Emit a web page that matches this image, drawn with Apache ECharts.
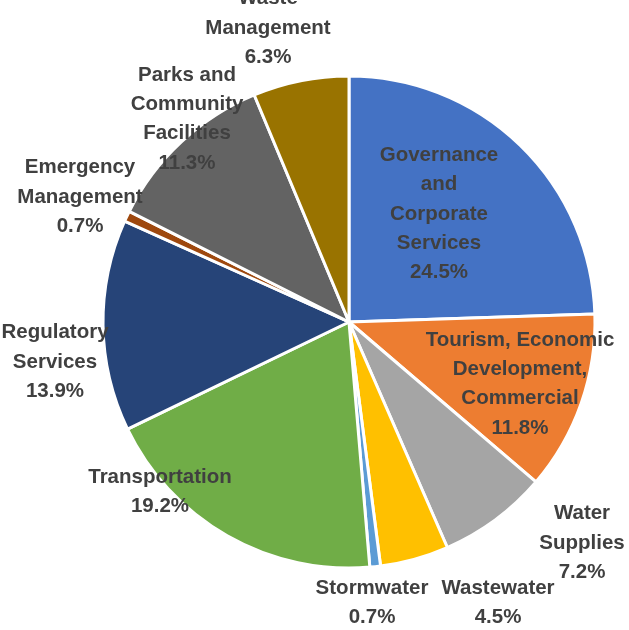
<!DOCTYPE html>
<html>
<head>
<meta charset="utf-8">
<script src="https://cdn.jsdelivr.net/npm/echarts@6/dist/echarts.min.js"></script>
<style>html,body{margin:0;padding:0;background:#fff}#c{width:629px;height:630px}</style>
</head>
<body>
<div id="c"></div>
<script>
const categories = [
  "Governance\nand\nCorporate\nServices",
  "Tourism, Economic\nDevelopment,\nCommercial",
  "Water\nSupplies",
  "Wastewater",
  "Stormwater",
  "Transportation",
  "Regulatory\nServices",
  "Emergency\nManagement",
  "Parks and\nCommunity\nFacilities",
  "Waste\nManagement"
];
const values = [24.5, 11.8, 7.2, 4.5, 0.7, 19.2, 13.9, 0.7, 11.3, 6.3];
const colors = ["#4472C4", "#ED7D31", "#A5A5A5", "#FFC000", "#5B9BD5", "#70AD47", "#264478", "#9E480E", "#636363", "#997300"];
// label anchor points (text block centers)
const labelPos = [
  [439, 214], [520, 384], [582, 543], [498, 603], [372, 603],
  [160, 492], [55, 362], [80, 197], [187, 119], [268, 28]
];

const chart = echarts.init(document.getElementById('c'), null, {renderer: 'canvas'});
chart.setOption({
  animation: false,
  backgroundColor: '#ffffff',
  series: [{
    type: 'pie',
    center: [349, 322],
    radius: [0, 246],
    startAngle: 90,
    clockwise: true,
    avoidLabelOverlap: false,
    itemStyle: { borderColor: '#ffffff', borderWidth: 3 },
    label: {
      show: true,
      position: 'inside',
      color: '#404040',
      fontFamily: 'Liberation Sans',
      fontWeight: 'bold',
      fontSize: 20.5,
      lineHeight: 29.3,
      align: 'center',
      formatter: p => p.name + '\n' + p.value.toFixed(1) + '%'
    },
    labelLine: { show: false },
    labelLayout: p => ({
      x: labelPos[p.dataIndex][0],
      y: labelPos[p.dataIndex][1],
      align: 'center',
      verticalAlign: 'middle'
    }),
    data: categories.map((n, i) => ({ name: n, value: values[i], itemStyle: { color: colors[i] } }))
  }]
});
</script>
</body>
</html>
